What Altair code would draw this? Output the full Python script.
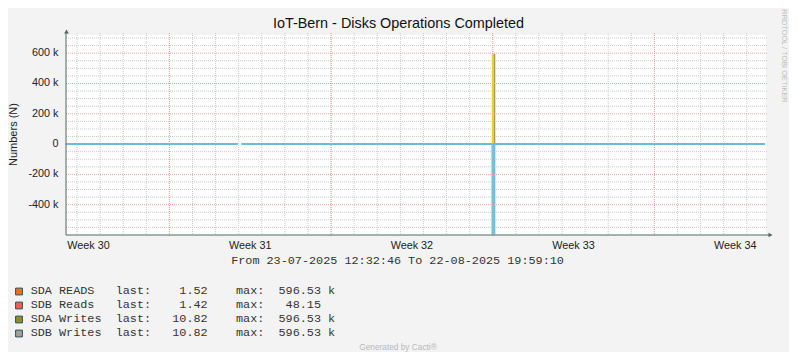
import altair as alt
import pandas as pd

# ---------------- texts ----------------
TITLE = "IoT-Bern - Disks Operations Completed"
Y_TITLE = "Numbers (N)"
RANGE_TEXT = "From 23-07-2025 12:32:46 To 22-08-2025 19:59:10"
FOOTER = "Generated by Cacti®"
WATERMARK = "RRDTOOL / TOBI OETIKER"

# ---------------- axes ----------------
T_START = alt.DateTime(year=2025, month=7, date=23, hours=12, minutes=32, seconds=46)
T_END = alt.DateTime(year=2025, month=8, date=22, hours=19, minutes=59, seconds=10)
Y_MIN, Y_MAX = -600000, 720000

week_labels = ["Week 30", "Week 31", "Week 32", "Week 33", "Week 34"]
week_mid = ["2025-07-24T12:00:00", "2025-07-31T12:00:00", "2025-08-07T12:00:00",
            "2025-08-14T12:00:00", "2025-08-21T12:00:00"]
week_start = ["2025-07-28T00:00:00", "2025-08-04T00:00:00",
              "2025-08-11T00:00:00", "2025-08-18T00:00:00"]
day_ticks = ([f"2025-07-{d:02d}T00:00:00" for d in range(24, 32)]
             + [f"2025-08-{d:02d}T00:00:00" for d in range(1, 23)])
y_major = [-400000, -200000, 200000, 400000, 600000]
y_label_values = [-400000, -200000, 0, 200000, 400000, 600000]
y_labels = ["-400 k", "-200 k", "0", "200 k", "400 k", "600 k"]
y_minor = [-550000, -500000, -450000, -350000, -300000, -250000, -150000, -100000,
           -50000, 50000, 100000, 150000, 250000, 300000, 350000, 450000, 500000,
           550000, 650000, 700000]

# ---------------- series ----------------
base_time = ["2025-07-23T12:32:46", "2025-07-30T23:10:00",
             "2025-07-31T02:50:00", "2025-08-22T19:10:00"]
base_value = [1.52, 10.82, 10.82, 10.82]
base_segment = [0, 0, 1, 1]

spike_series = ["SDB Writes", "SDA READS", "SDA Writes"]
spike_start = ["2025-08-10T22:40:00", "2025-08-10T23:00:00", "2025-08-11T01:00:00"]
spike_end = ["2025-08-11T02:45:00", "2025-08-11T01:00:00", "2025-08-11T02:40:00"]
spike_value = [-596530, 596530, 596530]
spike_color = ["#70BFE0", "#F5E01A", "#A59B58"]

# ---------------- legend ----------------
legend_names = ["SDA READS", "SDB Reads", "SDA Writes", "SDB Writes"]
legend_last = [1.52, 1.42, 10.82, 10.82]
legend_max = [596.53, 48.15, 596.53, 596.53]
legend_unit = ["k", "", "k", "k"]
legend_colors = ["#FF6A22", "#FF5A5A", "#8E8E2E", "#9EA29A"]

SANS = "Liberation Sans"
MONO = "Liberation Mono"
W, H = 700, 200

X = alt.X("t:T", scale=alt.Scale(domain=[T_START, T_END]), axis=None)
YS = alt.Scale(domain=[Y_MIN, Y_MAX], nice=False, zero=False)
Y = alt.Y("v:Q", scale=YS, axis=None)

# data layers
spikes = alt.Chart(pd.DataFrame({"series": spike_series, "t": spike_start, "t2": spike_end,
                                 "v": spike_value, "c": spike_color})).mark_rect().encode(
    x=X, x2="t2:T", y=Y, y2=alt.datum(0), color=alt.Color("c:N", scale=None))

baseline = alt.Chart(pd.DataFrame({"t": base_time, "v": base_value, "seg": base_segment})).mark_line(
    color="#6CBAD8", strokeWidth=2).encode(x=X, y=Y, detail="seg:N")

# grid
minor_v = alt.Chart(pd.DataFrame({"t": day_ticks})).mark_rule(
    color="#CACACA", strokeDash=[1, 1], strokeWidth=1).encode(x=X, y=alt.value(-2), y2=alt.value(H))
major_v = alt.Chart(pd.DataFrame({"t": week_start})).mark_rule(
    color="#E8A4A4", strokeDash=[1, 1], strokeWidth=1).encode(x=X, y=alt.value(-2), y2=alt.value(H + 2))
minor_h = alt.Chart(pd.DataFrame({"v": y_minor})).mark_rule(
    color="#CACACA", strokeDash=[1, 1], strokeWidth=1).encode(y=Y, x=alt.value(0), x2=alt.value(W + 2))
major_h = alt.Chart(pd.DataFrame({"v": y_major})).mark_rule(
    color="#E8A4A4", strokeDash=[1, 1], strokeWidth=1).encode(y=Y, x=alt.value(0), x2=alt.value(W + 2))

# axis lines and arrows
AX = "#4E6B61"
one = pd.DataFrame({"k": [0]})
y_axis = alt.Chart(one).mark_rule(color=AX, strokeWidth=1).encode(
    x=alt.value(0), y=alt.value(-2), y2=alt.value(H))
x_axis = alt.Chart(one).mark_rule(color=AX, strokeWidth=1).encode(
    y=alt.value(H), x=alt.value(0), x2=alt.value(W + 3))
y_arrow = alt.Chart(one).mark_point(shape="triangle-up", filled=True, color=AX, size=22, opacity=1).encode(
    x=alt.value(0.5), y=alt.value(-3.5))
x_arrow = alt.Chart(one).mark_point(shape="triangle-right", filled=True, color=AX, size=22, opacity=1).encode(
    x=alt.value(W + 4.5), y=alt.value(H))

# labels
y_lab = alt.Chart(pd.DataFrame({"v": y_label_values, "lab": y_labels})).mark_text(
    align="right", baseline="middle", font=SANS, fontSize=10.8, color="#222").encode(
    y=Y, x=alt.value(-7.5), text="lab:N")
x_lab = alt.Chart(pd.DataFrame({"t": week_mid, "lab": week_labels})).mark_text(
    align="center", baseline="alphabetic", font=SANS, fontSize=10.8, color="#222").encode(
    x=X, y=alt.value(214), text="lab:N")


def label(text, x, y, **kw):
    return alt.Chart(pd.DataFrame({"s": [text]})).mark_text(**kw).encode(
        x=alt.value(x), y=alt.value(y), text="s:N")


title = label(TITLE, 332.5, -6.7, font=SANS, fontSize=14.4, color="#111", align="center", baseline="alphabetic")
ytitle = label(Y_TITLE, -49.5, 99.5, font=SANS, fontSize=11, color="#222", align="center",
               baseline="alphabetic", angle=270)
rng = label(RANGE_TEXT, 331.5, 228.5, font=MONO, fontSize=11.8, color="#333", align="center", baseline="alphabetic")
footer = label(FOOTER, 332, 315, font=SANS, fontSize=8.3, color="#B8B8B8", align="center", baseline="alphabetic")
water = label(WATERMARK, 716, 21, font=SANS, fontSize=7.4, color="#BDBDBD", align="center",
              baseline="alphabetic", angle=90)

# legend
leg_df = pd.DataFrame({"row": list(range(len(legend_names))), "name": legend_names,
                       "last": legend_last, "mx": legend_max, "unit": legend_unit,
                       "c": legend_colors, "lastlab": ["last:"] * 4, "maxlab": ["max:"] * 4})
leg = alt.Chart(leg_df).transform_calculate(py="259.3 + datum.row * 14", sy="256.5 + datum.row * 14")
LY = alt.Y("py:Q", scale=None, axis=None)
tkw = dict(font=MONO, fontSize=11.8, color="#333", baseline="alphabetic")
leg_sq = leg.mark_square(size=46, strokeWidth=1, stroke="#2F4F4F", opacity=1).encode(
    x=alt.value(-47), y=alt.Y("sy:Q", scale=None, axis=None), fill=alt.Color("c:N", scale=None))
leg_name = leg.mark_text(align="left", **tkw).encode(x=alt.value(-35.3), y=LY, text="name:N")
leg_lastlab = leg.mark_text(align="left", **tkw).encode(x=alt.value(49.7), y=LY, text="lastlab:N")
leg_last = leg.mark_text(align="right", **tkw).encode(x=alt.value(141.7), y=LY,
                                                       text=alt.Text("last:Q", format=".2f"))
leg_maxlab = leg.mark_text(align="left", **tkw).encode(x=alt.value(170), y=LY, text="maxlab:N")
leg_max = leg.mark_text(align="right", **tkw).encode(x=alt.value(255), y=LY,
                                                     text=alt.Text("mx:Q", format=".2f"))
leg_unit = leg.mark_text(align="left", **tkw).encode(x=alt.value(262.1), y=LY, text="unit:N")

chart = alt.layer(
    minor_v, minor_h, spikes, baseline, major_v, major_h,
    y_axis, x_axis, y_arrow, x_arrow, y_lab, x_lab,
    title, ytitle, rng, footer, water,
    leg_sq, leg_name, leg_lastlab, leg_last, leg_maxlab, leg_max, leg_unit,
).properties(
    width=W, height=H,
    autosize=alt.AutoSizeParams(type="none"),
    padding={"left": 58, "top": 27, "right": 23, "bottom": 117},
    background="#F3F3F3",
).configure_view(fill="white", stroke=None)

chart.save("out.html", embed_options={"renderer": "svg", "actions": False})
